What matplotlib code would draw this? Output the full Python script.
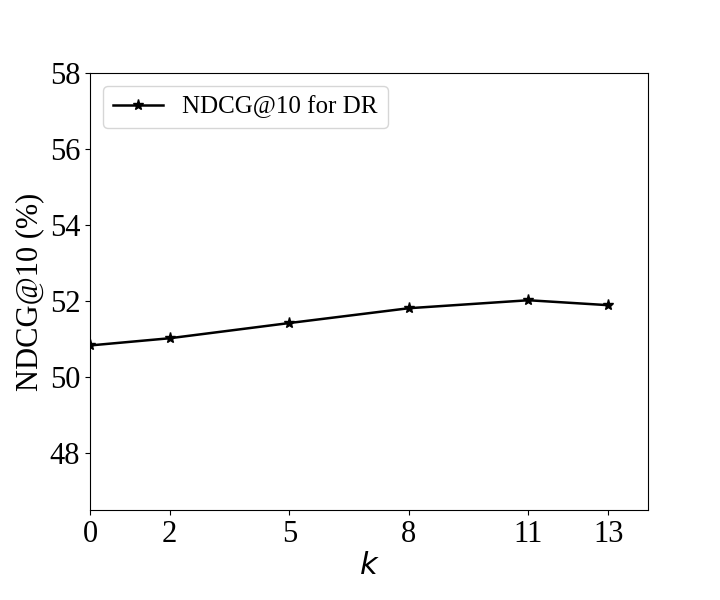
import matplotlib
matplotlib.use("Agg")
import matplotlib.pyplot as plt

k_values = [0, 2, 5, 8, 11, 13]
ndcg = [50.83, 51.02, 51.42, 51.81, 52.02, 51.89]
yticks = [48, 50, 52, 54, 56, 58]

plt.rcParams['font.family'] = ['Liberation Serif', 'DejaVu Serif']
plt.rcParams['mathtext.fontset'] = 'dejavusans'

fig = plt.figure(figsize=(7.2, 6), dpi=100)
ax = fig.add_axes([90/720, 1-510/600, (648-90)/720, (510-73)/600])
ax.plot(k_values, ndcg, color='black', marker='*', markersize=8, linewidth=1.8, label='NDCG@10 for DR')
ax.set_xlim(0, 14)
ax.set_ylim(46.5, 58)
ax.set_xticks(k_values)
ax.set_yticks(yticks)
ax.tick_params(labelsize=22)
ax.set_xlabel('$k$', fontsize=22, labelpad=2)
ax.set_ylabel('NDCG@10 (%)', fontsize=22)
ax.legend(loc='upper left', fontsize=18, handlelength=2.0, handletextpad=0.8)
fig.savefig('out.png', dpi=100)
